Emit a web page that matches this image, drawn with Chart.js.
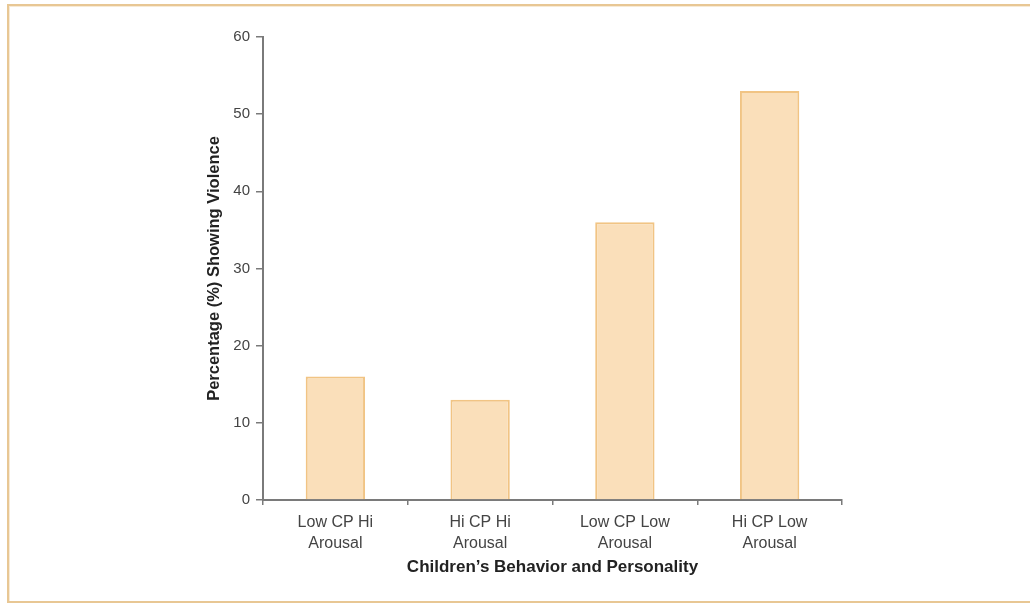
<!DOCTYPE html>
<html>
<head>
<meta charset="utf-8">
<script src="https://cdn.jsdelivr.net/npm/chart.js@4.4.1/dist/chart.umd.min.js"></script>
<style>
  html, body { margin: 0; padding: 0; background: #fff; }
  #wrap { position: relative; width: 1030px; height: 605px; }
</style>
</head>
<body>
<div id="wrap"><canvas id="chart" width="1030" height="605"></canvas></div>
<script>
// groups of children, split over two lines under each bar
const categories = [
  ['Low CP Hi', 'Arousal'],
  ['Hi CP Hi', 'Arousal'],
  ['Low CP Low', 'Arousal'],
  ['Hi CP Low', 'Arousal']
];
// % of each group showing violence
const violencePct = [16, 13, 36, 53];
const yMin = 0;
const yMax = 60;
const yStep = 10;

const axisGrey = '#7a7a7a';
const labelGrey = '#444';
const fontFamily = 'Liberation Sans, Arial, sans-serif';

// thin tan frame on the left, top and bottom edges
const framePlugin = {
  id: 'frame',
  beforeDraw(chart) {
    const ctx = chart.ctx;
    ctx.save();
    ctx.fillStyle = '#fff';
    ctx.fillRect(0, 0, chart.width, chart.height);
    ctx.fillStyle = '#e8c794';
    ctx.fillRect(7, 4, chart.width - 7, 2);
    ctx.fillRect(7, 4, 2, 599);
    ctx.fillRect(7, 601, chart.width - 7, 2);
    ctx.fillStyle = '#f7ead6';
    ctx.fillRect(9, 6, chart.width - 9, 1);
    ctx.fillRect(9, 6, 1, 595);
    ctx.restore();
  }
};

new Chart(document.getElementById('chart'), {
  type: 'bar',
  data: {
    labels: categories,
    datasets: [{
      data: violencePct,
      backgroundColor: '#fadfba',
      borderColor: '#f1c484',
      borderWidth: 2,
      borderSkipped: 'bottom',
      barPercentage: 0.41,
      categoryPercentage: 1
    }]
  },
  options: {
    responsive: false,
    animation: false,
    layout: { padding: { top: 37, right: 188, bottom: 0, left: 0 } },
    plugins: {
      legend: { display: false },
      tooltip: { enabled: false }
    },
    scales: {
      x: {
        afterFit(scale) { scale.height = 105; },
        border: { display: true, color: axisGrey, width: 2 },
        grid: {
          display: true,
          offset: true,
          drawOnChartArea: false,
          drawTicks: true,
          tickLength: 5,
          color: axisGrey,
          lineWidth: 1.5
        },
        ticks: {
          color: labelGrey,
          padding: 7,
          maxRotation: 0,
          font: { family: fontFamily, size: 16, lineHeight: 1.31 }
        },
        title: {
          display: true,
          text: 'Children’s Behavior and Personality',
          color: '#222',
          padding: { top: 0, bottom: 27 },
          font: { family: fontFamily, size: 17, weight: 'bold' }
        }
      },
      y: {
        min: yMin,
        max: yMax,
        afterFit(scale) { scale.width = 263; },
        border: { display: true, color: axisGrey, width: 2 },
        grid: {
          display: true,
          drawOnChartArea: false,
          drawTicks: true,
          tickLength: 7,
          color: axisGrey,
          lineWidth: 1.5
        },
        ticks: {
          stepSize: yStep,
          color: labelGrey,
          padding: 6,
          font: { family: fontFamily, size: 15 }
        },
        title: {
          display: true,
          text: 'Percentage (%) Showing Violence',
          color: '#222',
          padding: { top: 205, bottom: 0 },
          font: { family: fontFamily, size: 16.5, weight: 'bold' }
        }
      }
    }
  },
  plugins: [framePlugin]
});
</script>
</body>
</html>
